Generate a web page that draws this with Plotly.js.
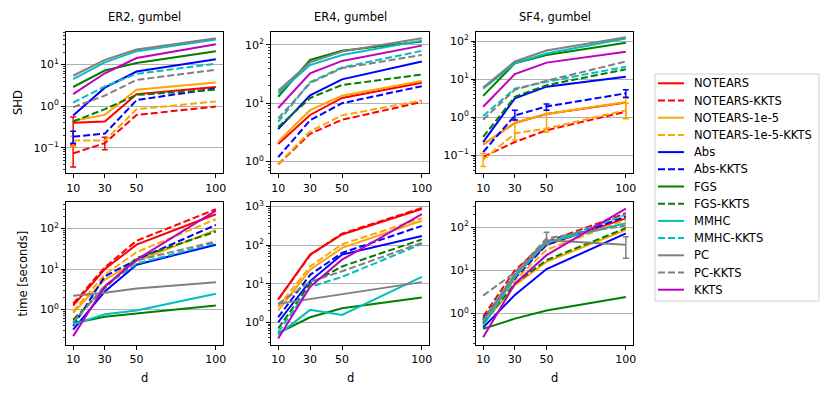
<!DOCTYPE html>
<html>
<head>
<meta charset="utf-8">
<script src="https://cdn.plot.ly/plotly-3.0.1.min.js"></script>
<style>html,body{margin:0;padding:0;background:#fff;}#chart{width:831px;height:396px;}</style>
</head>
<body>
<div id="chart"></div>
<script>
// ---------- data ----------
const dVals = [10, 30, 50, 100];
const seriesNames = ["NOTEARS", "NOTEARS-KKTS", "NOTEARS-1e-5", "NOTEARS-1e-5-KKTS", "Abs", "Abs-KKTS",
  "FGS", "FGS-KKTS", "MMHC", "MMHC-KKTS", "PC", "PC-KKTS", "KKTS"];
const panelTitles = ["ER2, gumbel", "ER4, gumbel", "SF4, gumbel"];

// SHD values (rows follow seriesNames, columns follow dVals)
const shdER2 = [
  [0.4, 0.43, 1.95, 2.9], [0.074, 0.13, 0.62, 0.98], [0.45, 0.62, 2.5, 3.7], [0.15, 0.15, 0.85, 1.3],
  [0.6, 2.8, 6.8, 13.5], [0.186, 0.22, 1.4, 2.7], [2.9, 7.2, 10.9, 21], [0.43, 0.85, 1.87, 2.5],
  [4.5, 11.3, 21, 40], [1.22, 3.0, 6.0, 10.5], [5.4, 13, 23, 43], [0.95, 1.8, 4.3, 7.5], [1.95, 6.2, 14.4, 31]
];
const shdER4 = [
  [2.0, 6.3, 12.3, 22.4], [0.9, 3.0, 5.2, 10.5], [2.2, 7.6, 13.4, 24], [0.91, 3.3, 6.2, 11.2],
  [3.6, 13.7, 25.6, 52], [1.19, 5.1, 10, 19.6], [12.9, 55, 79, 114], [3.9, 12.3, 20.5, 31],
  [15, 45, 67, 118], [4.8, 23, 41, 79], [16.3, 50, 77, 130], [5.5, 22, 40, 67], [8.3, 32.5, 53, 97]
];
const shdSF4 = [
  [0.19, 0.7, 1.2, 2.4], [0.09, 0.22, 0.45, 1.38], [0.19, 0.71, 1.2, 2.5], [0.075, 0.37, 0.5, 1.5],
  [0.22, 3.1, 6.3, 11.5], [0.12, 1.1, 1.9, 4.2], [3.6, 26, 43, 90], [0.3, 3.4, 6.9, 18],
  [5.6, 26, 47, 117], [1.06, 5.6, 8.5, 21], [6.0, 29, 56, 125], [0.85, 5.2, 9, 29], [1.87, 13.5, 27, 52]
];
// time [seconds]
const timeER2 = [
  [1.25, 10, 40, 225], [1.4, 11, 50, 300], [0.83, 5.5, 15.5, 93], [0.9, 7.3, 26, 170],
  [0.32, 2.8, 12.8, 40], [0.39, 6.6, 17, 123], [0.46, 0.66, 0.8, 1.25], [0.56, 3.4, 18.7, 84],
  [0.43, 0.76, 0.95, 2.45], [0.47, 3.9, 13.5, 44], [2.2, 2.6, 3.3, 4.7], [0.49, 3.7, 16.3, 48], [0.22, 3.7, 17, 277]
];
const timeER4 = [
  [3.9, 57, 190, 870], [3.9, 55, 200, 920], [2.0, 23, 85, 430], [2.5, 28, 105, 500],
  [1.0, 11.7, 57, 173], [1.35, 17, 63, 316], [0.52, 1.35, 2.3, 4.4], [0.69, 10, 28, 141],
  [0.47, 2.1, 1.55, 15], [0.55, 8.3, 15, 108], [3.0, 4.0, 5.3, 11], [3.0, 11.3, 21, 115], [0.38, 8.3, 42, 640]
];
const timeSF4 = [
  [0.7, 7.7, 39, 160], [0.85, 10, 46, 210], [0.57, 4.5, 15.8, 87], [0.6, 5.9, 30, 148],
  [0.47, 2.7, 10.7, 72], [0.75, 6.5, 39, 177], [0.44, 0.76, 1.17, 2.4], [0.6, 4.9, 17.3, 95],
  [0.52, 7.0, 45, 124], [0.69, 8.5, 42, 195], [0.65, 7.7, 50, 39], [2.6, 8.9, 55, 110], [0.28, 4.9, 22.5, 268]
];

// visible error bars: [seriesName, lows, highs] (null = no bar)
const errShdER2 = [
  ["NOTEARS", [0.12, null, null, null], [0.55, null, null, null]],
  ["NOTEARS-KKTS", [0.035, 0.09, null, null], [0.11, 0.18, null, null]],
  ["NOTEARS-1e-5-KKTS", [0.107, null, null, null], [0.19, null, null, null]],
  ["Abs-KKTS", [0.13, null, null, null], [0.25, null, null, null]]
];
const errShdSF4 = [
  ["NOTEARS-1e-5", [null, 0.25, 0.4, 0.9], [null, 0.83, 1.5, 3.1]],
  ["NOTEARS-1e-5-KKTS", [0.05, null, null, 0.95], [0.11, null, null, 2.3]],
  ["Abs-KKTS", [null, 0.83, 1.5, 3.3], [null, 1.5, 2.2, 5.2]]
];
const errTimeSF4 = [
  ["PC", [null, null, null, 19], [null, null, null, 60]],
  ["PC-KKTS", [null, null, 39, null], [null, null, 76, null]]
];

// ---------- styles ----------
const seriesColors = ["#ff0000", "#ff0000", "#ffa500", "#ffa500", "#0000ff", "#0000ff",
  "#008000", "#008000", "#00bfbf", "#00bfbf", "#808080", "#808080", "#bf00bf"];
const seriesDashed = [false, true, false, true, false, true, false, true, false, true, false, true, false];

const panels = [
  {data: shdER2, err: errShdER2, range: [-1.61, 1.79], decades: [-1, 0, 1]},
  {data: shdER4, err: [], range: [-0.2, 2.225], decades: [0, 1, 2]},
  {data: shdSF4, err: errShdSF4, range: [-1.48, 2.245], decades: [-1, 0, 1, 2]},
  {data: timeER2, err: [], range: [-0.877, 2.656], decades: [0, 1, 2]},
  {data: timeER4, err: [], range: [-0.59, 3.12], decades: [0, 1, 2, 3]},
  {data: timeSF4, err: errTimeSF4, range: [-0.73, 2.584], decades: [0, 1, 2]}
];

const W = 831, H = 396;
const colPx = [[66, 223], [271, 429], [476, 633]];
const rowPx = [[31.7, 173.3], [202, 345]];
const FONT = "DejaVu Sans, Arial, sans-serif";
const DASH = "7px,3px";

const traces = [];
const layout = {
  width: W, height: H,
  margin: {l: 0, r: 0, t: 0, b: 0},
  paper_bgcolor: "#ffffff", plot_bgcolor: "#ffffff",
  font: {family: FONT, size: 11, color: "#000"},
  showlegend: false,
  annotations: [], shapes: []
};

function minorVals(range) {
  const out = [];
  for (let e = Math.floor(range[0]) - 1; e <= Math.ceil(range[1]); e++) {
    for (let m = 2; m <= 9; m++) out.push(m * Math.pow(10, e));
  }
  return out;
}
function supText(e) {
  return "10<sup>" + (e < 0 ? "\u2212" + (-e) : e) + "</sup>";
}

panels.forEach((p, k) => {
  const row = Math.floor(k / 3), col = k % 3;
  const idx = k + 1;
  const xa = "x" + (idx === 1 ? "" : idx), ya = "y" + (idx === 1 ? "" : idx);
  const xKey = "xaxis" + (idx === 1 ? "" : idx), yKey = "yaxis" + (idx === 1 ? "" : idx);
  layout[xKey] = {
    domain: [colPx[col][0] / W, colPx[col][1] / W],
    anchor: ya, range: [5.5, 104.5], type: "linear",
    tickmode: "array", tickvals: dVals, ticktext: dVals.map(String),
    ticks: "outside", ticklen: 4, tickwidth: 1, tickcolor: "#000",
    showline: true, mirror: true, linecolor: "#000", linewidth: 1,
    showgrid: false, zeroline: false, tickfont: {size: 11, family: FONT}
  };
  layout[yKey] = {
    domain: [1 - rowPx[row][1] / H, 1 - rowPx[row][0] / H],
    anchor: xa, type: "log", range: p.range,
    tickmode: "array", tickvals: p.decades.map(e => Math.pow(10, e)), ticktext: p.decades.map(supText),
    ticks: "outside", ticklen: 4, tickwidth: 1, tickcolor: "#000",
    minor: {tickmode: "array", tickvals: minorVals(p.range), ticks: "outside", ticklen: 2.3, tickwidth: 0.8, tickcolor: "#000", showgrid: false},
    showline: true, mirror: true, linecolor: "#000", linewidth: 1,
    showgrid: true, gridcolor: "#b0b0b0", gridwidth: 1, zeroline: false,
    tickfont: {size: 11, family: FONT}
  };
  p.data.forEach((vals, s) => {
    const t = {
      type: "scatter", mode: "lines", x: dVals, y: vals, xaxis: xa, yaxis: ya,
      name: seriesNames[s], showlegend: false,
      line: {color: seriesColors[s], width: 2, dash: seriesDashed[s] ? DASH : "solid"},
      hoverinfo: "skip"
    };
    const e = p.err.find(r => r[0] === seriesNames[s]);
    if (e) {
      t.error_y = {
        type: "data", symmetric: false, visible: true,
        array: vals.map((v, i) => e[2][i] == null ? NaN : e[2][i] - v),
        arrayminus: vals.map((v, i) => e[1][i] == null ? NaN : v - e[1][i]),
        color: seriesColors[s], thickness: 1.5, width: 3
      };
    }
    traces.push(t);
  });
  const cx = (colPx[col][0] + colPx[col][1]) / 2 / W;
  if (row === 0) {
    layout.annotations.push({text: panelTitles[col], xref: "paper", yref: "paper", x: cx, y: 1 - 17 / H,
      xanchor: "center", yanchor: "middle", showarrow: false, font: {size: 11.5, family: FONT}});
  } else {
    layout.annotations.push({text: "d", xref: "paper", yref: "paper", x: cx, y: 1 - 378 / H,
      xanchor: "center", yanchor: "middle", showarrow: false, font: {size: 11.5, family: FONT}});
  }
});
layout.annotations.push({text: "SHD", xref: "paper", yref: "paper", x: 17.5 / W, y: 1 - 102.5 / H,
  xanchor: "center", yanchor: "middle", textangle: -90, showarrow: false, font: {size: 11.5, family: FONT}});
layout.annotations.push({text: "time [seconds]", xref: "paper", yref: "paper", x: 22 / W, y: 1 - 273.5 / H,
  xanchor: "center", yanchor: "middle", textangle: -90, showarrow: false, font: {size: 11.5, family: FONT}});

// ---------- legend (frame, samples, labels) ----------
const legBox = {x0: 655, x1: 819, y0: 74, y1: 301};
layout.shapes.push({type: "rect", xref: "paper", yref: "paper",
  x0: legBox.x0 / W, x1: legBox.x1 / W, y0: 1 - legBox.y1 / H, y1: 1 - legBox.y0 / H,
  line: {color: "#d0d0d0", width: 1}, fillcolor: "#ffffff", layer: "below"});
seriesNames.forEach((name, s) => {
  const yy = 83.3 + 17.2 * s;
  layout.shapes.push({type: "line", xref: "paper", yref: "paper",
    x0: 658 / W, x1: 684 / W, y0: 1 - yy / H, y1: 1 - yy / H,
    line: {color: seriesColors[s], width: 2, dash: seriesDashed[s] ? DASH : "solid"}});
  layout.annotations.push({text: name, xref: "paper", yref: "paper", x: 692 / W, y: 1 - yy / H,
    xanchor: "left", yanchor: "middle", showarrow: false, font: {size: 11.5, family: FONT}});
});

Plotly.newPlot("chart", traces, layout, {staticPlot: true, displayModeBar: false});
</script>
</body>
</html>
